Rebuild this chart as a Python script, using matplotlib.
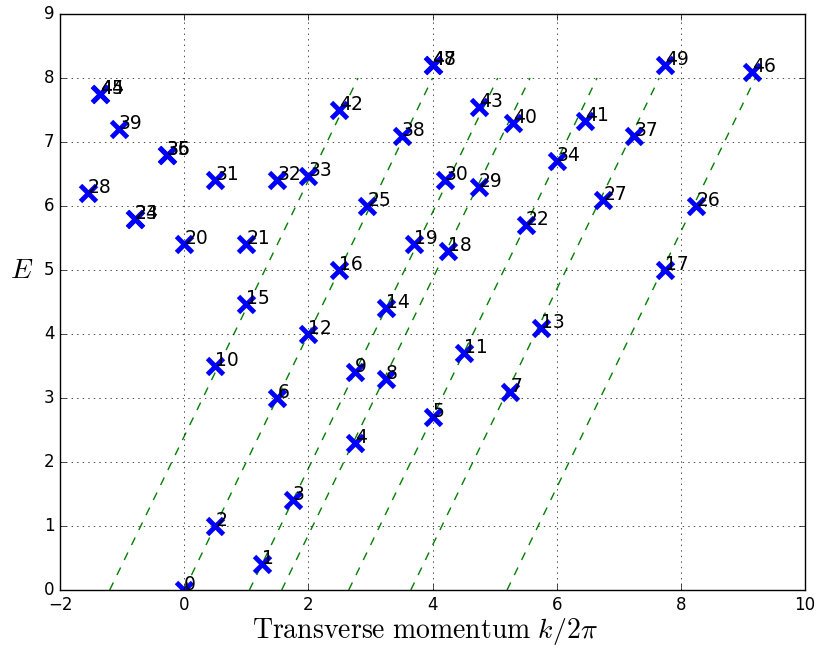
import matplotlib
matplotlib.use("Agg")
import matplotlib.pyplot as plt
import numpy as np

plt.style.use("classic")
plt.rcParams["mathtext.fontset"] = "cm"

# eigenstate positions (transverse momentum, energy), indexed 0..49
k_vals = [0.0, 1.25, 0.5, 1.75, 2.75, 4.0, 1.5, 5.25, 3.25, 2.75,
          0.5, 4.5, 2.0, 5.75, 3.25, 1.0, 2.5, 7.75, 4.25, 3.7,
          0.0, 1.0, 5.5, -0.8, -0.8, 2.95, 8.25, 6.75, -1.55, 4.75,
          4.2, 0.5, 1.5, 2.0, 6.0, -0.28, -0.28, 7.25, 3.5, -1.05,
          5.3, 6.45, 2.5, 4.75, -1.35, -1.35, 9.15, 4.0, 4.0, 7.75]
E_vals = [0.0, 0.4, 1.0, 1.4, 2.3, 2.7, 3.0, 3.1, 3.3, 3.4,
          3.5, 3.7, 4.0, 4.1, 4.4, 4.47, 5.0, 5.0, 5.3, 5.4,
          5.4, 5.4, 5.7, 5.8, 5.8, 6.0, 6.0, 6.1, 6.2, 6.3,
          6.4, 6.4, 6.4, 6.47, 6.7, 6.8, 6.8, 7.1, 7.1, 7.2,
          7.3, 7.33, 7.5, 7.55, 7.75, 7.75, 8.1, 8.2, 8.2, 8.2]

# light-cone lines E = slope * (k - k0)
cone_k0 = [-1.2, 0.0, 1.05, 1.57, 2.65, 3.65, 5.2]
cone_slope = 2.0
cone_E = [0.0, 8.0]

fig = plt.figure(figsize=(8.19, 6.51), dpi=100, facecolor="white")
ax = fig.add_axes([0.0733, 0.0937, 0.9097, 0.8848])

for k0 in cone_k0:
    E = np.array(cone_E)
    ax.plot(k0 + E / cone_slope, E, "g--", lw=1)

ax.plot(k_vals, E_vals, "bx", ms=12, mew=3.5)
for i, (k, e) in enumerate(zip(k_vals, E_vals)):
    ax.text(k, e, str(i), fontsize=13.5)

ax.set_xlim(-2, 10)
ax.set_ylim(0, 9)
ax.grid(True)
ax.set_xlabel(r"$\mathrm{Transverse\ momentum}\ k/2\pi$", fontsize=20,
              ha="center", va="center")
ax.set_ylabel(r"$E$", fontsize=20, rotation=0, ha="center", va="center")
ax.yaxis.set_label_coords(-0.051, 0.556)
ax.xaxis.set_label_coords(0.49, -0.072)

fig.savefig("out.png", dpi=100, facecolor="white")
